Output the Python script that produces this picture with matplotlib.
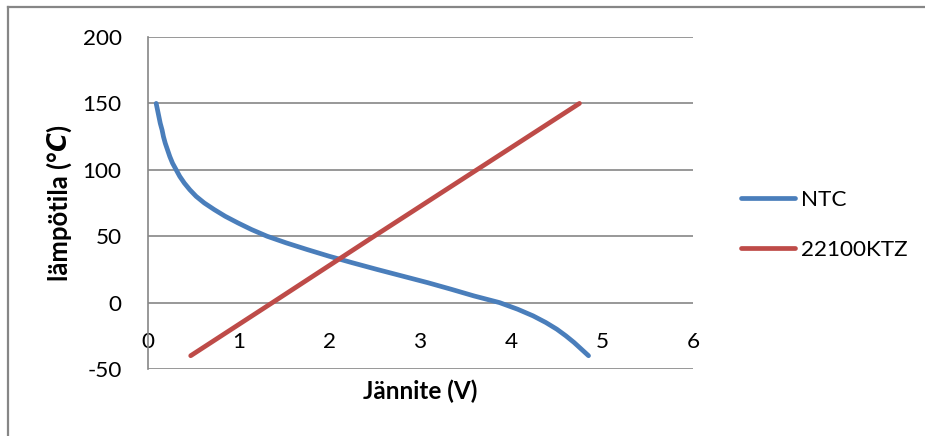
import matplotlib
matplotlib.use("Agg")
import matplotlib.pyplot as plt
from matplotlib.lines import Line2D

# ---- data ----
ntc_temp = [-40, -35, -30, -25, -20, -15, -10, -5, 0, 5, 10, 15, 20, 25, 30, 35, 40, 45, 50,
            55, 60, 65, 70, 75, 80, 85, 90, 95, 100, 105, 110, 115, 120, 125, 130, 135, 140, 145, 150]
ntc_volt = [4.85, 4.77, 4.69, 4.60, 4.50, 4.38, 4.24, 4.07, 3.87, 3.59, 3.34, 3.08, 2.80, 2.52, 2.25, 1.99, 1.75, 1.52, 1.31,
            1.14, 0.99, 0.85, 0.73, 0.62, 0.53, 0.46, 0.40, 0.35, 0.31, 0.27, 0.24, 0.215, 0.19, 0.17, 0.155, 0.135, 0.12, 0.105, 0.09]
ktz_temp = [-40, 0, 50, 100, 150]
ktz_volt = [0.47, 1.37, 2.49, 3.62, 4.75]
series_names = ["NTC", "22100KTZ"]
x_ticks = [0, 1, 2, 3, 4, 5, 6]
y_ticks = [-50, 0, 50, 100, 150, 200]
x_title = 'Jännite (V)'
y_title_parts = ['lämpötila (°', 'C', ')']

plt.rcParams['font.family'] = ['Lato', 'DejaVu Sans']
plt.rcParams['axes.unicode_minus'] = False

FS = 16.2
fig = plt.figure(figsize=(9.25, 4.36), dpi=100)
ax = fig.add_axes([148/925, 1-369/436, 545/925, 332/436])

blue = '#4A7EBB'
red = '#BE4B48'
ax.plot(ntc_volt, ntc_temp, color=blue, lw=3.4, solid_capstyle='round', solid_joinstyle='round', label=series_names[0], zorder=3)
ax.plot(ktz_volt, ktz_temp, color=red, lw=3.4, solid_capstyle='round', solid_joinstyle='round', label=series_names[1], zorder=3)

ax.set_xlim(0, 6)
ax.set_ylim(-50, 200)
ax.set_xticks(x_ticks)
ax.set_yticks(y_ticks)
ax.set_xticklabels([str(v) for v in x_ticks])
ax.set_yticklabels([str(v) for v in y_ticks])
ax.grid(axis='y', color='#868686', lw=1.2, zorder=1)
ax.set_axisbelow(True)

for s in ['top', 'right']:
    ax.spines[s].set_visible(False)
ax.spines['left'].set_color('#868686')
ax.spines['left'].set_linewidth(1.2)
ax.spines['bottom'].set_position(('data', 0))
ax.spines['bottom'].set_visible(False)
ax.tick_params(axis='x', length=0, pad=21, labelsize=FS)
ax.tick_params(axis='y', length=0, pad=19, labelsize=FS)

ax.set_xlabel(x_title, fontsize=17.5, fontweight='bold')
ax.xaxis.set_label_coords(0.499, -0.066)
ax.xaxis.label.set_va('center')

# y title built from pieces so that "C" can be italic
YFS = 18.5
t1 = fig.text(59/925, 1-281/436, y_title_parts[0], rotation=90, ha='center', va='bottom',
              fontsize=YFS, fontweight='bold')
t2 = ax.annotate(y_title_parts[1], xy=(0.5, 1), xycoords=t1, rotation=90, ha='center', va='bottom',
                 fontsize=YFS, fontweight='bold', style='italic', family='DejaVu Sans',
                 annotation_clip=False)
t3 = ax.annotate(y_title_parts[2], xy=(0.5, 1), xycoords=t2, rotation=90, ha='center', va='bottom',
                 fontsize=YFS, fontweight='bold', annotation_clip=False)

leg = ax.legend(loc='center left', bbox_to_anchor=(1.088, 0.434), frameon=False,
                fontsize=FS, handlelength=2.4, handletextpad=0.25, labelspacing=1.35,
                borderaxespad=0, borderpad=0)
for h in leg.get_lines():
    h.set_linewidth(3.4)

# outer chart border (top and left)
fig.add_artist(Line2D([8/925, 1], [1-7/436, 1-7/436], transform=fig.transFigure, color='#868686', lw=1.6))
fig.add_artist(Line2D([8/925, 8/925], [0, 1-7/436], transform=fig.transFigure, color='#868686', lw=1.6))

fig.savefig('out.png', dpi=100)
